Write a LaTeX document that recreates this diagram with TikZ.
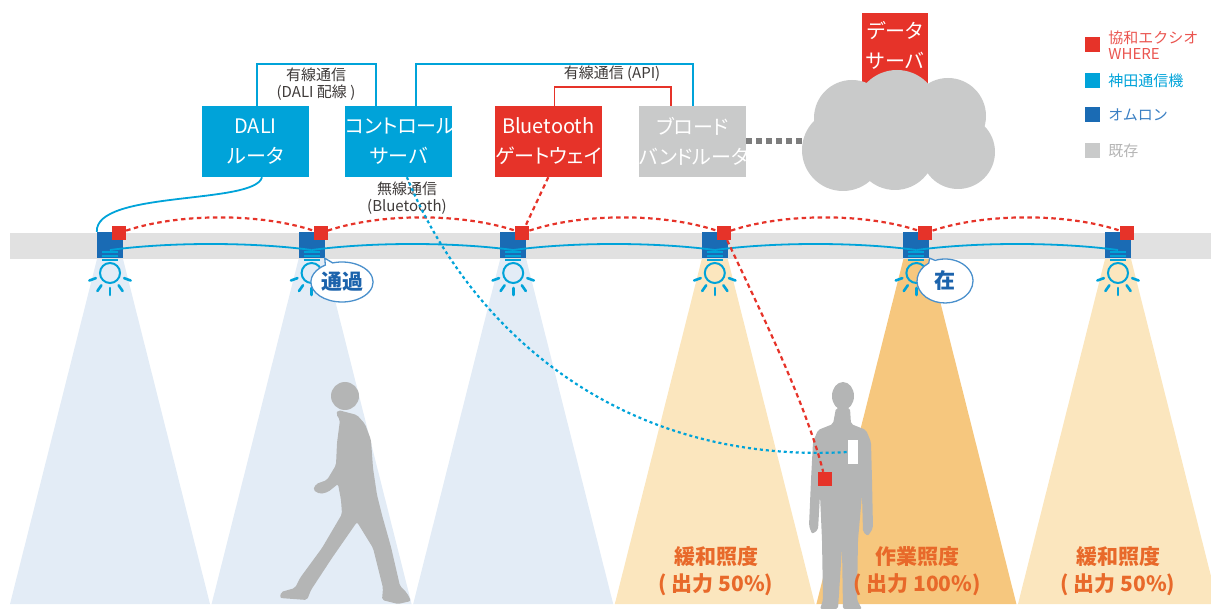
\documentclass[tikz,border=0pt]{standalone}
\usepackage{fontspec}
\setmainfont{Noto Sans CJK JP}
\newfontfamily\devfont[RawFeature=+palt]{Noto Sans CJK JP}
\usetikzlibrary{positioning,calc,shapes.callouts}
\definecolor{kyowa}{HTML}{E63329}
\definecolor{kyowatext}{HTML}{EA5550}
\definecolor{kanda}{HTML}{00A3D9}
\definecolor{omron}{HTML}{1A6BB4}
\definecolor{omrontext}{HTML}{3A7FC3}
\definecolor{kizon}{HTML}{C9CACA}
\definecolor{kizontext}{HTML}{B5B5B5}
\definecolor{ceiling}{HTML}{E1E1E1}
\definecolor{coolbeam}{HTML}{E3ECF6}
\definecolor{warmbeam}{HTML}{FBE6BE}
\definecolor{hotbeam}{HTML}{F6C77E}
\definecolor{silhouette}{HTML}{B4B5B5}
\definecolor{inktext}{HTML}{3E3A39}
\definecolor{lux}{HTML}{E8692A}
\definecolor{bubbleline}{HTML}{4A90CC}
\definecolor{bubbletext}{HTML}{1C63AC}
\definecolor{ispline}{HTML}{7D7D7D}
\tikzset{
  devbox/.style={text width=107pt, minimum height=71pt, inner sep=0pt, align=center,
    text=white, font=\devfont\fontsize{20}{30}\selectfont},
  kandabox/.style={devbox, fill=kanda},
  kyowabox/.style={devbox, fill=kyowa},
  kizonbox/.style={devbox, fill=kizon},
  note/.style={align=center, text=inktext, font=\fontsize{15}{17}\selectfont, inner sep=0pt},
  wire/.style={draw=kanda, line width=1.6pt},
  apiwire/.style={draw=kyowa, line width=1.6pt},
  daliline/.style={draw=kanda, line width=1.8pt},
  radio/.style={draw=kanda, line width=2.2pt, dash pattern=on 3pt off 3pt},
  beacon/.style={draw=kyowa, line width=2.2pt, dash pattern=on 4.5pt off 3.5pt},
  isp/.style={draw=ispline, line width=6pt, dash pattern=on 6pt off 4pt},
  lamp/.style={fill=omron, minimum size=26pt, inner sep=0pt},
  tagsq/.style={fill=kyowa, minimum size=14pt, inner sep=0pt},
  bubble/.style={ellipse callout, draw=bubbleline, fill=white, line width=1.3pt,
    text=bubbletext, font=\fontsize{21}{21}\selectfont\bfseries, inner sep=1pt},
  luxlabel/.style={align=center, text=lux, font=\fontsize{21}{27}\selectfont\bfseries},
  legsq/.style={minimum size=15pt, inner sep=0pt},
  legtext/.style={align=left, inner sep=0pt, font=\fontsize{15}{16}\selectfont}
}

\begin{document}
\begin{tikzpicture}[x=1pt, y=-1pt, node distance=36pt]
    \useasboundingbox (0,0) rectangle (1211,609);

    % light cones
    \foreach \i/\tone in {0/coolbeam,1/coolbeam,2/coolbeam,3/warmbeam,4/hotbeam,5/warmbeam}{
      \pgfmathsetmacro\cx{110+201.6*\i}
      \fill[\tone] (\cx-13,259) -- (\cx+13,259) -- (\cx+100,604) -- (\cx-100,604) -- cycle;
    }
    \fill[ceiling] (10,233) rectangle (1211,259);

    % people
    \fill[silhouette] (345,396) circle[radius=14];
    \fill[silhouette, rounded corners=2pt] (338,410) -- (336,414) -- (340,420) -- (337,443)
      -- (336,465) -- (327,480) -- (316,484) -- (313,490) -- (320,494) -- (328,492)
      -- (338,484) -- (341,500) -- (342,514) -- (322,548) -- (300,578) -- (295,588)
      -- (281,592) -- (280,598) -- (307,600) -- (311,590) -- (332,558) -- (357,522)
      -- (373,548) -- (383,588) -- (382,600) -- (398,604) -- (411,601) -- (407,593)
      -- (400,586) -- (391,547) -- (382,515) -- (377,495) -- (373,468) -- (371,440)
      -- (365,424) -- (357,415) -- cycle;
    \fill[silhouette] (843,396) ellipse[x radius=11, y radius=14];
    \fill[silhouette, rounded corners=2pt] (836,408) -- (850,408) -- (851,424) -- (866,430)
      -- (871,442) -- (872,480) -- (873,528) -- (868,536) -- (863,532) -- (862,495)
      -- (858,540) -- (857,600) -- (862,609) -- (843,609) -- (842,548) -- (838,609)
      -- (820,609) -- (823,600) -- (822,540) -- (820,495) -- (818,530) -- (812,534)
      -- (809,526) -- (811,480) -- (813,442) -- (818,430) -- (833,424) -- cycle;
    \node[fill=white, minimum width=10pt, minimum height=24pt, inner sep=0pt] (card) at (853,452) {};
    \node[tagsq] (badge) at (825,479) {};

    % fixtures
    \foreach \i in {1,...,6}{
      \pgfmathsetmacro\cx{110+201.6*(\i-1)}
      \node[lamp] (lamp\i) at (\cx,245) {};
      \node[tagsq] (tag\i) at (\cx+9,233) {};
      \foreach \yy in {252,256,260}
        \draw[kanda, line width=1.4pt] (\cx-8,\yy) -- (\cx+8,\yy);
      \draw[kanda, line width=2pt] (\cx,273) circle[radius=10];
      \foreach \a in {20,55,90,125,160}
        \draw[kanda, line width=2.6pt, line cap=round] (\cx,273) ++(\a:15) -- ++(\a:7);
    }
    \foreach \i [evaluate=\i as \j using int(\i+1)] in {1,...,5}{
      \draw[daliline] ([yshift=-5pt]lamp\i.center) .. controls +(60,-8) and +(-60,-8) .. ([yshift=-5pt]lamp\j.center);
      \draw[beacon] (tag\i) .. controls +(60,-20) and +(-60,-20) .. (tag\j);
    }

    % devices
    \node[kandabox] (dali) at (255.5,141.5) {DALI\\ルータ};
    \node[kandabox, right=36pt of dali] (ctrl) {コントロール\\サーバ};
    \node[kyowabox, right=42pt of ctrl] (gate) {Bluetooth\\ゲートウェイ};
    \node[kizonbox, right=37pt of gate] (bbr) {ブロード\\バンドルータ};

    \node[kyowabox, text width=66pt, minimum height=64pt, anchor=north] (dsrv) at (895,13) {データ\\サーバ};
    \fill[kyowa] (dsrv.south west) rectangle ++(66,20);
    \fill[kizon] (852,118) circle[radius=38] (897,112) circle[radius=42]
      (948,116) circle[radius=38] (843,150) circle[radius=41]
      (895,150) circle[radius=40] (958,152) circle[radius=37];
    \coordinate (cloud) at (802,141.5);

    \draw[wire] ([xshift=1.5pt]dali.north) -- ++(0,-42) -| ([xshift=-23pt]ctrl.north);
    \draw[wire] ([xshift=17pt]ctrl.north) -- ++(0,-42) -| (bbr.north);
    \draw[apiwire] ([xshift=6pt]gate.north) -- ++(0,-19) -| ([xshift=-22pt]bbr.north);
    \draw[isp] (bbr.east) -- (cloud);
    \draw[daliline] ([xshift=6.5pt]dali.south) .. controls (255,205) and (95,190) .. (lamp1.north west);

    \node[note] (dalilabel) at (316,84) {有線通信\\(DALI 配線 )};
    \node[note] (apilabel) at (612,74) {有線通信 (API)};
    \node[note] (btlabel) at (407,198) {無線通信\\(Bluetooth)};

    \draw[radio] ([xshift=8pt]ctrl.south) .. controls (470,330) and (620,465) .. (card.west);
    \draw[beacon] (gate.south) -- (tag3);
    \draw[beacon] (tag4) .. controls (755,300) and (805,400) .. (badge);

    \node[bubble, minimum width=53pt, minimum height=40pt, callout absolute pointer={(lamp2.south east)}] (pass) at (342,282) {通過};
    \node[bubble, minimum width=56pt, minimum height=44pt, callout absolute pointer={(lamp5.south east)}] (stay) at (945,281) {在};

    \node[luxlabel] (easeleft) at (716,571) {緩和照度\\( 出力 50\%)};
    \node[luxlabel] (work) at (917,571) {作業照度\\( 出力 100\%)};
    \node[luxlabel] (easeright) at (1118,571) {緩和照度\\( 出力 50\%)};

    % legend
    \node[legsq, fill=kyowa] (legkyowa) at (1092.5,45) {};
    \node[legsq, fill=kanda] (legkanda) at (1092.5,81) {};
    \node[legsq, fill=omron] (legomron) at (1092.5,115) {};
    \node[legsq, fill=kizon] (legkizon) at (1092.5,151) {};
    \node[legtext, text=kyowatext, right=8pt of legkyowa] {協和エクシオ\\WHERE};
    \node[legtext, text=kanda, right=8pt of legkanda] {神田通信機};
    \node[legtext, text=omrontext, right=8pt of legomron] {オムロン};
    \node[legtext, text=kizontext, right=8pt of legkizon] {既存};
  \end{tikzpicture}
\end{document}
